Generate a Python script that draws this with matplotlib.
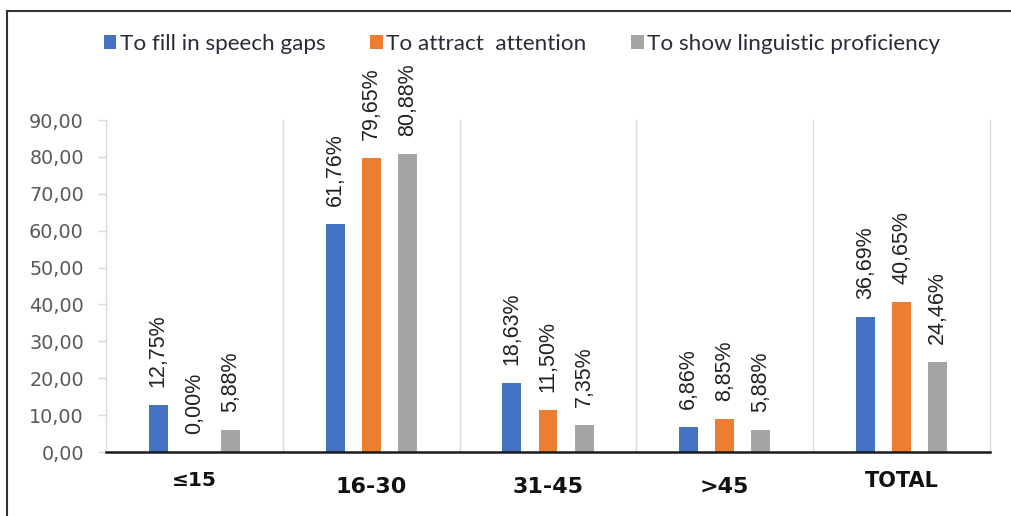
import numpy as np
import matplotlib
matplotlib.use("Agg")
import matplotlib.pyplot as plt
from matplotlib.patches import Rectangle, Patch
from matplotlib.transforms import ScaledTranslation

# Data
categories = ["≤15", "16-30", "31-45", ">45", "TOTAL"]
series_names = ["To fill in speech gaps", "To attract  attention", "To show linguistic proficiency"]
fill_gaps = [12.75, 61.76, 18.63, 6.86, 36.69]
attract_attention = [0.00, 79.65, 11.50, 8.85, 40.65]
show_proficiency = [5.88, 80.88, 7.35, 5.88, 24.46]
yticks = [0, 10, 20, 30, 40, 50, 60, 70, 80, 90]

series = [fill_gaps, attract_attention, show_proficiency]
colors = ["#4472C4", "#ED7D31", "#A5A5A5"]

W, H = 1012, 516
fig = plt.figure(figsize=(W / 100, H / 100), dpi=100)
ax = fig.add_axes([106 / W, (H - 452) / H, (990 - 106) / W, (452 - 120) / H])

x = np.arange(len(categories))
offsets = [-0.204, 0.0, 0.204]
bar_w = 0.107

def fmt(v):
    return f"{v:.2f}".replace(".", ",") + "%"

for vals, off, col in zip(series, offsets, colors):
    bars = ax.bar(x + off, vals, width=bar_w, color=col, zorder=3)
    for b, v in zip(bars, vals):
        ax.annotate(fmt(v), (b.get_x() + b.get_width() / 2, v),
                    xytext=(0, 13), textcoords="offset points",
                    rotation=90, ha="center", va="bottom",
                    fontsize=15.5, family="Liberation Sans", color="#222222")

ax.set_xlim(-0.5, len(categories) - 0.5)
ax.set_ylim(0, 90)

# category separators
for b in np.arange(-0.5, len(categories), 1.0):
    ax.plot([b, b], [0, 90], color="#D9D9D9", lw=1.0, zorder=1, clip_on=False)

for s in ["top", "right", "left"]:
    ax.spines[s].set_visible(False)
ax.spines["bottom"].set_color("#1a1a1a")
ax.spines["bottom"].set_linewidth(1.8)
ax.spines["bottom"].set_zorder(4)

ax.set_yticks(yticks)
ax.set_yticklabels([f"{t:.2f}".replace(".", ",") for t in yticks],
                   fontsize=13.8, family="DejaVu Sans", color="#595959")
ax.tick_params(axis="y", length=6, color="#D9D9D9", width=1, pad=10)

ax.set_xticks(x)
ax.set_xticklabels(categories, fontweight="bold", family="DejaVu Sans", color="#111111")
ax.tick_params(axis="x", length=0, pad=14)
sizes = [14.5, 16, 16, 16, 15]
shifts = [0, -6, -6, -6, 0]
for lbl, sz, dy in zip(ax.get_xticklabels(), sizes, shifts):
    lbl.set_fontsize(sz)
    lbl.set_transform(lbl.get_transform() + ScaledTranslation(0, dy / 100, fig.dpi_scale_trans))

# legend
handles = [Patch(facecolor=c, edgecolor="none") for c in colors]
fig.legend(handles, series_names, loc="center", bbox_to_anchor=(522 / W, 1 - 44 / H),
           ncol=3, frameon=False, handlelength=0.55, handleheight=0.55,
           handletextpad=0.15, columnspacing=2.0,
           prop={"family": "Lato", "size": 16.2}, labelcolor="#2b2b3a")

# outer frame
fig.patches.append(Rectangle((7.5 / W, -0.2), 1.5, 1.2 - 11 / H,
                             transform=fig.transFigure, fill=False,
                             edgecolor="#333333", linewidth=1.5))

fig.savefig("out.png", dpi=100)
